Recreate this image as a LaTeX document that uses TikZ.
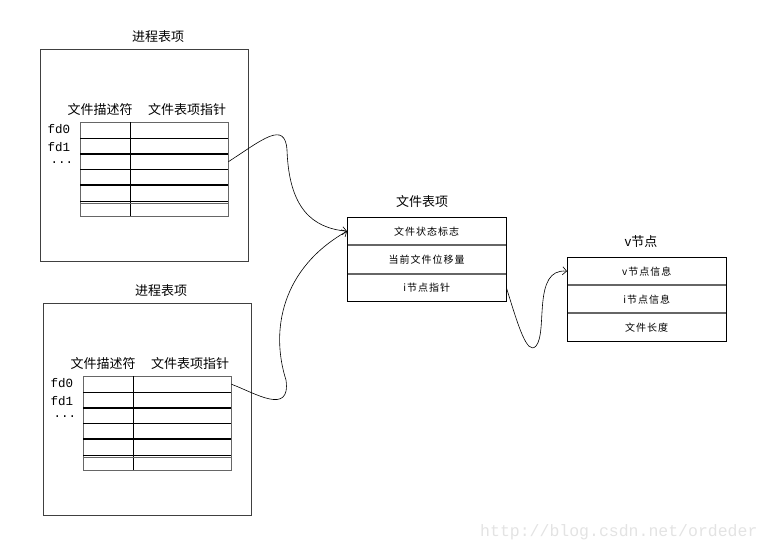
\documentclass[tikz,border=0pt]{standalone}
\usepackage{fontspec}
\newfontfamily\cjk{Noto Sans CJK SC}
\newfontfamily\cjksp[LetterSpace=10]{Noto Sans CJK SC}
\newfontfamily\mono{Liberation Mono}
\usetikzlibrary{arrows.meta}

% One process-table entry: outer frame, column headings and the fd rows.
\newcommand{\proctable}[1]{%
  \node[title] (#1-title) at (158,37) {进程表项};
  \node[frame, anchor=north west, minimum width=208, minimum height=212] (#1-box) at (40,49) {};
  \node[head] (#1-hfd) at (100,110) {文件描述符};
  \node[head] (#1-hptr) at (187,110) {文件表项指针};
  \foreach \i/\t/\h in {1/122/16, 2/138/16, 3/154/15, 4/169/16, 5/185/16, 6/203/13}
    \node[rowbox, minimum height=\h] (#1-r\i) at (80,\t) {};
  \draw[gridout] (80,122) rectangle (228,216);
  \draw[gridthin] (130,122) -- (130,216);
  \draw[gridthin] (80,138) -- (228,138);
  \draw[gridthick] (80,154) -- (228,154);
  \draw[gridthin] (80,169) -- (228,169);
  \draw[gridthick] (80,185) -- (228,185);
  \draw[gridthin] (80,201) -- (228,201);
  \draw[gridout] (80,203) -- (228,203);
  \node[fdlabel] (#1-fd0) at (59,129) {fd0};
  \node[fdlabel] (#1-fd1) at (59,147) {fd1};
  \node[fdlabel, text height=1.5pt] (#1-dots) at (62,163) {...};
}

\begin{document}
\begin{tikzpicture}[x=1pt, y=-1pt,
  frame/.style={draw=black!75, line width=0.8pt, inner sep=0pt},
  title/.style={font=\cjk\fontsize{13}{15}\selectfont, inner sep=0pt},
  head/.style={font=\cjk\fontsize{13}{15}\selectfont, inner sep=0pt},
  fdlabel/.style={font=\mono\fontsize{12.5}{14}\selectfont, inner sep=0pt,
    text height=8pt, text depth=0pt},
  cell/.style={font=\cjksp\fontsize{10}{12}\selectfont, inner sep=0pt,
    minimum width=159, anchor=north west},
  rowbox/.style={inner sep=0pt, minimum width=148, anchor=north west},
  gridout/.style={draw=black!60, line width=0.9pt},
  gridthin/.style={draw=black, line width=0.8pt},
  gridthick/.style={draw=black, line width=1.4pt},
  sep/.style={draw=black!60, line width=1.8pt},
  link/.style={draw=black, line width=0.6pt,
    -{Straight Barb[length=4pt, width=8pt]}}
]
\useasboundingbox (0,0) rectangle (771,552);

% the two process-table entries
\begin{scope}
  \proctable{pa}
\end{scope}
\begin{scope}[shift={(3,254)}]
  \proctable{pb}
\end{scope}

% file-table entry
\node[title] (ft-title) at (422,202) {文件表项};
\node[cell, minimum height=28] (ft-r1) at (347,217) {文件状态标志};
\node[cell, minimum height=29] (ft-r2) at (347,245) {当前文件位移量};
\node[cell, minimum height=27] (ft-r3) at (347,274) {i节点指针};
\draw[sep] (347,245) -- (506,245);
\draw[sep] (347,274) -- (506,274);
\draw[draw=black, line width=0.8pt] (347,217) rectangle (506,301);

% v-node
\node[title] (vn-title) at (641,242) {v节点};
\node[cell, minimum height=28] (vn-r1) at (567,257) {v节点信息};
\node[cell, minimum height=28] (vn-r2) at (567,285) {i节点信息};
\node[cell, minimum height=28] (vn-r3) at (567,313) {文件长度};
\draw[sep] (567,285) -- (726,285);
\draw[sep] (567,313) -- (726,313);
\draw[draw=black, line width=0.8pt] (567,257) rectangle (726,341);

% pointers
\draw[link] (pa-r3.east) .. controls (262,140) and (285,120) .. (287,150)
  .. controls (289,208) and (312,228) .. (ft-r1.west);
\draw[link] (pb-r1.east) .. controls (255,393) and (291,416) .. (286,380)
  .. controls (270,330) and (282,268) .. (ft-r1.west);
\draw[link] (ft-r3.east) .. controls (518,325) and (527,356) .. (536,346)
  .. controls (548,332) and (532,268) .. (vn-r1.west);

% blog address
\node[font=\mono\fontsize{16.5}{18}\selectfont, text=black!11, anchor=west,
  inner sep=0pt] (wm) at (480,532) {http://blog.csdn.net/ordeder};
\end{tikzpicture}
\end{document}
